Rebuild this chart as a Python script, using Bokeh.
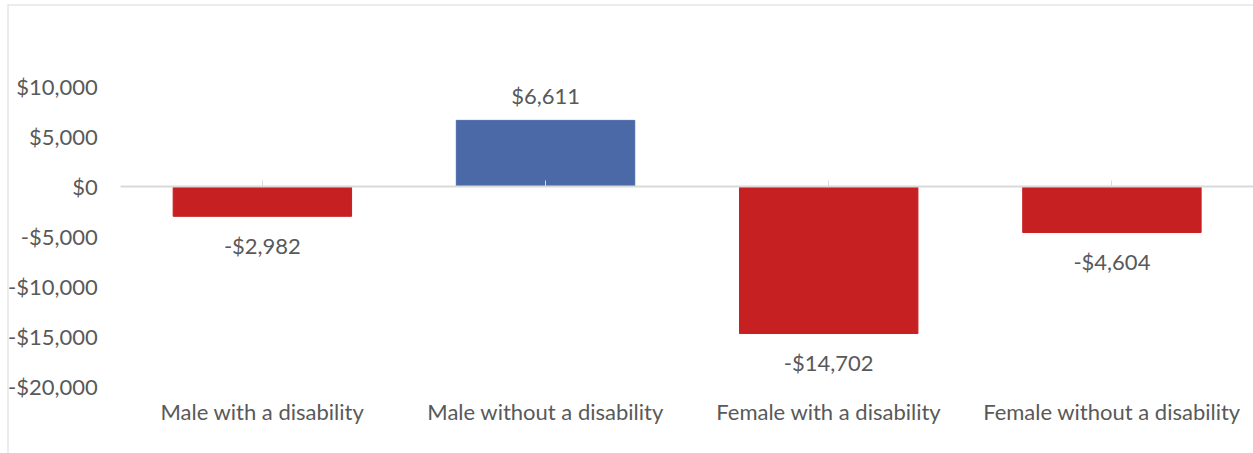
from bokeh.plotting import figure
from bokeh.models import (LinearAxis, FixedTicker, Range1d, Span, ColumnDataSource)
from bokeh.embed import file_html
from bokeh.resources import INLINE
from bokeh.core.properties import value

# ---- data ----
categories = ["Male with a disability", "Male without a disability",
              "Female with a disability", "Female without a disability"]
values = [-2982, 6611, -14702, -4604]
y_ticks = [-20000, -15000, -10000, -5000, 0, 5000, 10000]
y_tick_labels = ["-$20,000", "-$15,000", "-$10,000", "-$5,000", "$0", "$5,000", "$10,000"]

POS_COLOR = "#4A69A6"
NEG_COLOR = "#C62022"
TEXT_COLOR = "#595959"
GRID = "#D9D9D9"
FONT = "Lato"
FSIZE = "22px"

def money(v):
    s = "${:,}".format(abs(v))
    return "-" + s if v < 0 else s

xs = list(range(len(categories)))
colors = [POS_COLOR if v >= 0 else NEG_COLOR for v in values]

p = figure(width=1253, height=453, output_backend="svg", toolbar_location=None,
           x_axis_type=None, y_axis_type=None,
           x_range=Range1d(-0.9, len(categories) - 0.5),
           y_range=Range1d(-26700, 18200),
           min_border_left=7, min_border_top=4, min_border_right=0, min_border_bottom=0)
p.outline_line_color = None
p.background_fill_color = "white"
p.border_fill_color = "white"
p.xgrid.visible = False
p.ygrid.visible = False

# bars
src = ColumnDataSource(dict(x=xs, top=values, color=colors))
p.vbar(x="x", top="top", bottom=0, width=0.63, color="color", source=src)

# data labels
pos = ColumnDataSource(dict(x=[x for x, v in zip(xs, values) if v >= 0],
                            y=[v for v in values if v >= 0],
                            t=[money(v) for v in values if v >= 0]))
neg = ColumnDataSource(dict(x=[x for x, v in zip(xs, values) if v < 0],
                            y=[v for v in values if v < 0],
                            t=[money(v) for v in values if v < 0]))
for s, off in ((pos, -25), (neg, 29)):
    p.text(x="x", y="y", text="t", source=s, y_offset=off,
           text_align="center", text_baseline="middle",
           text_font=value(FONT), text_font_size=FSIZE, text_color=TEXT_COLOR)

# y axis (labels only)
yax = LinearAxis(fixed_location=-0.5, ticker=FixedTicker(ticks=y_ticks),
                 major_label_overrides={t: l for t, l in zip(y_ticks, y_tick_labels)})
yax.axis_line_color = None
yax.major_tick_line_color = None
yax.minor_tick_line_color = None
yax.major_tick_out = 0
yax.major_tick_in = 0
yax.major_label_standoff = 23
yax.major_label_text_font = FONT
yax.major_label_text_font_size = FSIZE
yax.major_label_text_color = TEXT_COLOR
p.add_layout(yax, "left")

# zero line with category ticks
zax = LinearAxis(fixed_location=0, ticker=FixedTicker(ticks=xs), bounds=(-0.5, len(categories) - 0.5))
zax.axis_line_color = GRID
zax.axis_line_width = 2
zax.major_tick_line_color = GRID
zax.major_tick_line_width = 1
zax.major_tick_in = 6
zax.major_tick_out = 0
zax.minor_tick_line_color = None
zax.major_label_text_font_size = "0px"
zax.major_label_overrides = {x: "" for x in xs}
p.add_layout(zax, "below")

# category labels axis
xax = LinearAxis(fixed_location=-20000, ticker=FixedTicker(ticks=xs),
                 major_label_overrides={x: c for x, c in zip(xs, categories)})
xax.axis_line_color = None
xax.major_tick_line_color = None
xax.minor_tick_line_color = None
xax.major_tick_out = 0
xax.major_tick_in = 0
xax.major_label_standoff = 11
xax.major_label_text_font = FONT
xax.major_label_text_font_size = FSIZE
xax.major_label_text_color = TEXT_COLOR
p.add_layout(xax, "below")

# chart-area border (left and top)
p.add_layout(Span(location=-0.9, dimension="height", line_color=GRID, line_width=2))
p.add_layout(Span(location=18200, dimension="width", line_color=GRID, line_width=2))

open("out.html", "w").write(file_html(p, INLINE))
